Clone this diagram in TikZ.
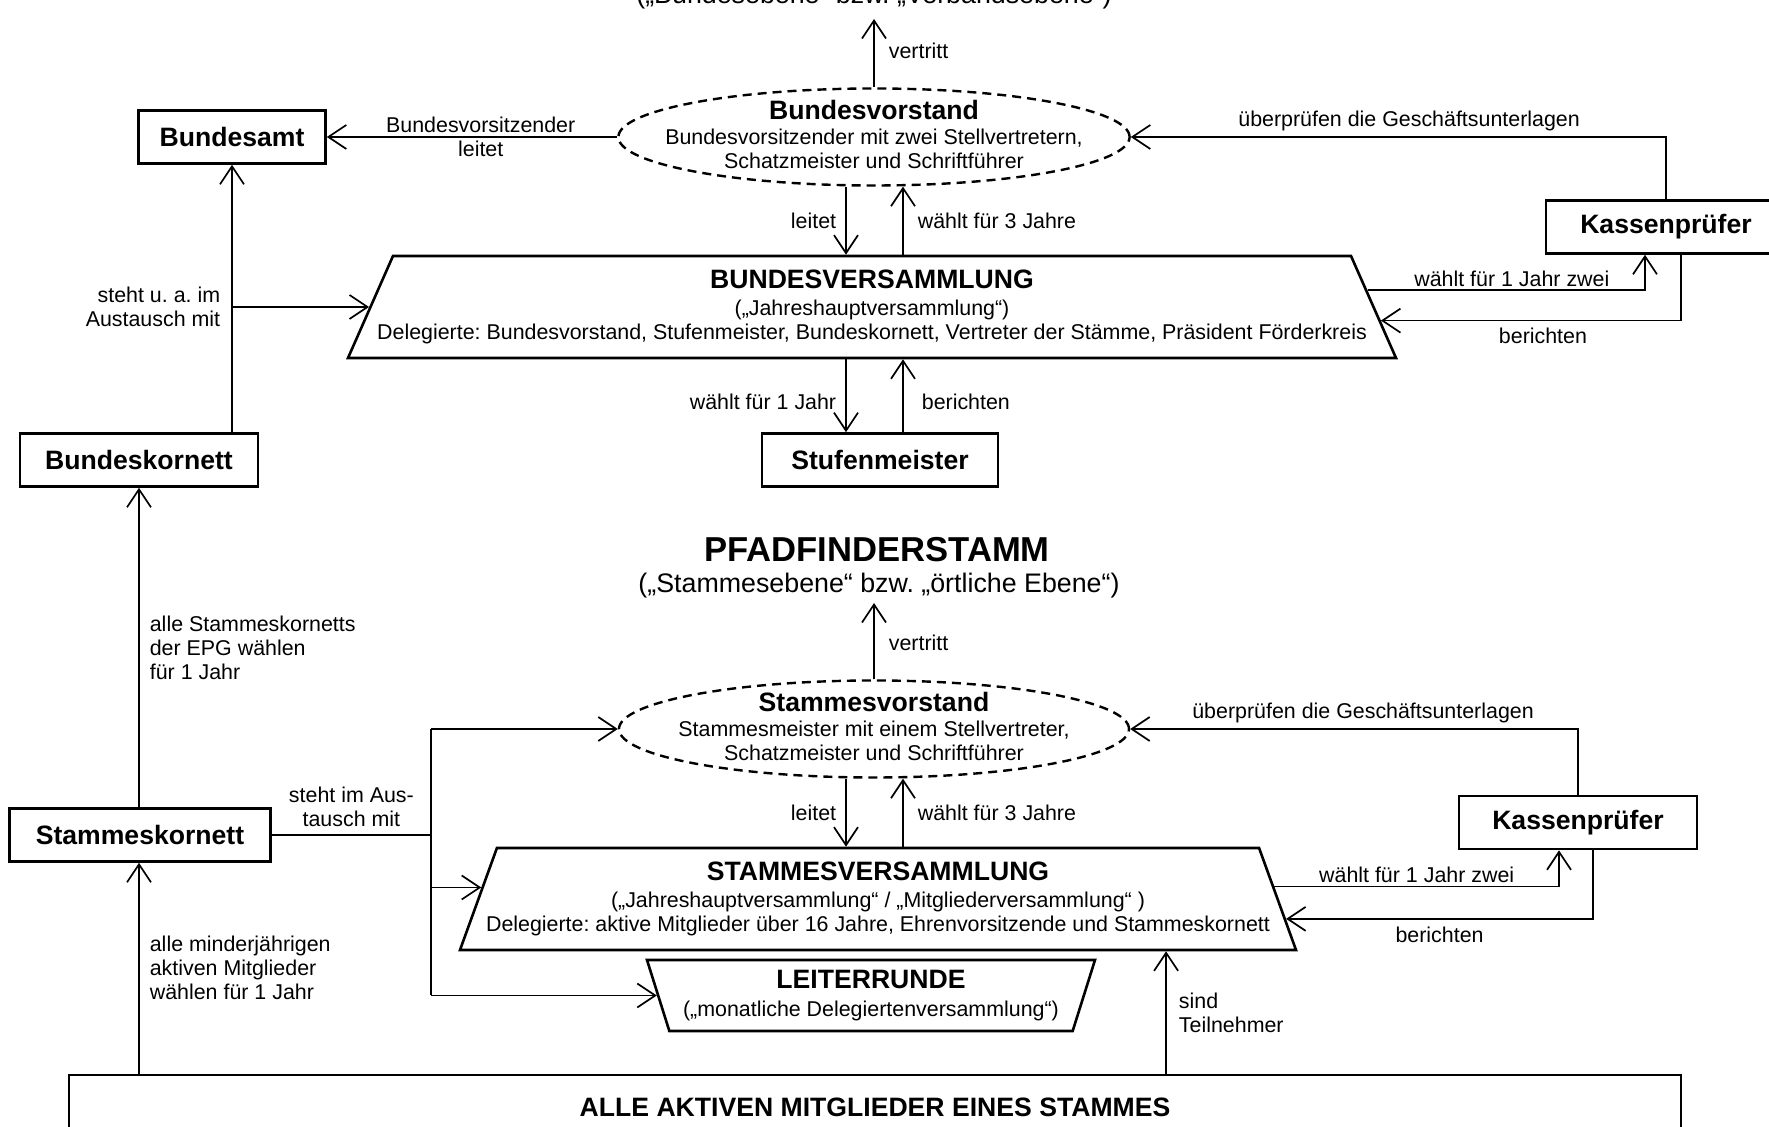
\documentclass[tikz,border=0pt]{standalone}
\usepackage{fontspec}
\setmainfont{Liberation Sans}
\usetikzlibrary{arrows.meta,shapes.geometric,calc}
\newcommand{\boldhead}[1]{{\fontsize{13.3}{14}\selectfont\bfseries #1}}
\frenchspacing

\begin{document}
\begin{tikzpicture}[x=0.5pt,y=-0.5pt,
    font=\fontsize{10.7}{12}\selectfont,
    >={Straight Barb[length=9pt,width=12pt]},
    box/.style={draw,line width=1.3pt,minimum height=26.5pt,font=\fontsize{13.3}{14}\selectfont\bfseries},
    vorstand/.style={ellipse,draw,line width=1.2pt,dash pattern=on 4.5pt off 3pt,minimum width=255pt,minimum height=48.5pt,inner xsep=-14pt,inner ysep=-3pt,align=center},
    versammlung/.style={trapezium,draw,line width=1.3pt,trapezium stretches body,align=center},
    conn/.style={->,line width=0.85pt},
    lbl/.style={inner sep=0pt}]
    \useasboundingbox (0,0) rectangle (1769,1127);

    % Bundesebene
    \node[anchor=base,font=\fontsize{13.4}{15}\selectfont] (bundsub) at (874,4) {(„Bundesebene“ bzw. „Verbandsebene“)};
    \coordinate (bundtip) at (874,19);
    \node[vorstand] (bvorst) at (874,137) {\boldhead{Bundesvorstand}\\[0.5pt] Bundesvorsitzender mit zwei Stellvertretern,\\ Schatzmeister und Schriftführer\rule[-2.8pt]{0pt}{0pt}};
    \node[box,minimum width=93.5pt] (bamt) at (232,137) {Bundesamt};
    \node[box,minimum width=120pt] (ksp1) at (1666,227) {Kassenprüfer};
    \node[versammlung,trapezium angle=66.2,minimum width=524pt,minimum height=51pt,inner xsep=-17pt,inner ysep=7pt] (bvers) at (872,307) {\boldhead{BUNDESVERSAMMLUNG}\\[1.5pt] („Jahreshauptversammlung“)\\ Delegierte: Bundesvorstand, Stufenmeister, Bundeskornett, Vertreter der Stämme, Präsident Förderkreis};
    \node[box,minimum width=118pt] (stufm) at (880,460) {Stufenmeister};
    \node[box,minimum width=119pt] (bkorn) at (139,460) {Bundeskornett};

    \draw[conn] (bvorst.north) -- (bundtip) node[lbl,pos=0.54,right=7pt]{vertritt};
    \draw[conn] (bvorst.west) -- (bamt.east) node[lbl,pos=0.47,align=center]{Bundesvorsitzender\\leitet};
    \draw[conn] (ksp1.north) |- (bvorst.east) node[lbl,pos=0.74,above=2.5pt]{überprüfen die Geschäftsunterlagen};
    \draw[conn] ($(bvers.top right corner)!0.34!(bvers.bottom right corner)$) -| ([xshift=-10.5pt]ksp1.south) node[lbl,pos=0.26,above=1.5pt]{wählt für 1 Jahr zwei};
    \draw[conn] ([xshift=7.5pt]ksp1.south) |- ($(bvers.top right corner)!0.63!(bvers.bottom right corner)$) node[lbl,pos=0.73,below=3.5pt]{berichten};
    \draw[conn] ([xshift=-14pt]bvorst.south) -- ([xshift=-14pt]bvorst.south |- bvers.north) node[lbl,midway,left=4.5pt]{leitet};
    \draw[conn] ([xshift=14.5pt]bvorst.south |- bvers.north) -- ([xshift=14.5pt]bvorst.south) node[lbl,midway,right=7pt]{wählt für 3 Jahre};
    \draw[conn] ([xshift=-14pt]bvorst.south |- bvers.south) -- ([xshift=-14pt]bvorst.south |- stufm.north) node[lbl,pos=0.59,left=4.5pt]{wählt für 1 Jahr};
    \draw[conn] ([xshift=14.5pt]bvorst.south |- stufm.north) -- ([xshift=14.5pt]bvorst.south |- bvers.south) node[lbl,pos=0.41,right=9pt]{berichten};
    \draw[conn] (bamt.south |- bkorn.north) -- (bamt.south);
    \draw[conn] (bamt.south |- bvers.west) node[lbl,left=5.5pt,align=right]{steht u. a. im\\Austausch mit} -- (bvers.west);
    \draw[conn] (bkorn.south |- 0,808) -- (bkorn.south) node[lbl,midway,right=5pt,align=left]{alle Stammeskornetts\\der EPG wählen\\für 1 Jahr};

    % Stammesebene
    \node[anchor=base,font=\fontsize{17.3}{19}\selectfont\bfseries] (stammtitle) at (877,562) {PFADFINDERSTAMM};
    \node[anchor=base,font=\fontsize{13.4}{15}\selectfont] (stammsub) at (879,593) {(„Stammesebene“ bzw. „örtliche Ebene“)};
    \coordinate (stammtip) at (874,603);
    \node[vorstand] (svorst) at (874,729) {\boldhead{Stammesvorstand}\\[0.5pt] Stammesmeister mit einem Stellvertreter,\\ Schatzmeister und Schriftführer\rule[-2.8pt]{0pt}{0pt}};
    \node[box,minimum width=119pt] (ksp2) at (1578,822.5) {Kassenprüfer};
    \node[versammlung,trapezium angle=70.1,minimum width=418pt,minimum height=51pt,inner xsep=-8pt,inner ysep=7pt] (svers) at (878,899) {\boldhead{STAMMESVERSAMMLUNG}\\[1.5pt] („Jahreshauptversammlung“ / „Mitgliederversammlung“ )\\ Delegierte: aktive Mitglieder über 16 Jahre, Ehrenvorsitzende und Stammeskornett};
    \node[versammlung,trapezium angle=108,minimum width=224pt,minimum height=35.5pt,inner ysep=4.5pt] (leit) at (871,995.5) {\boldhead{LEITERRUNDE}\\[2pt] („monatliche Delegiertenversammlung“)};
    \node[box,minimum width=130.5pt] (skorn) at (140,835) {Stammeskornett};
    \node[box,minimum width=806pt,minimum height=32pt] (alle) at (875,1107) {ALLE AKTIVEN MITGLIEDER EINES STAMMES};
    \coordinate (bus) at (431,835);
    \coordinate (sversl) at ($(svers.top left corner)!0.39!(svers.bottom left corner)$);

    \draw[conn] (svorst.north) -- (stammtip) node[lbl,pos=0.48,right=7pt]{vertritt};
    \draw[conn] (ksp2.north) |- (svorst.east) node[lbl,pos=0.74,above=2.5pt]{überprüfen die Geschäftsunterlagen};
    \draw[conn] ([xshift=-14pt]svorst.south) -- ([xshift=-14pt]svorst.south |- svers.north) node[lbl,midway,left=4.5pt]{leitet};
    \draw[conn] ([xshift=14.5pt]svorst.south |- svers.north) -- ([xshift=14.5pt]svorst.south) node[lbl,midway,right=7pt]{wählt für 3 Jahre};
    \draw[conn] ($(svers.top right corner)!0.38!(svers.bottom right corner)$) -| ([xshift=-9.5pt]ksp2.south) node[lbl,pos=0.25,above=1.5pt]{wählt für 1 Jahr zwei};
    \draw[conn] ([xshift=7.5pt]ksp2.south) |- ($(svers.top right corner)!0.69!(svers.bottom right corner)$) node[lbl,pos=0.75,below=3.5pt]{berichten};
    \draw[line width=0.85pt] (skorn.east) -- (bus) node[lbl,midway,above=3.5pt,align=center]{steht im Aus-\\tausch mit};
    \draw[line width=0.85pt] (bus |- svorst.west) -- (bus |- leit.west);
    \draw[conn] (bus |- svorst.west) -- (svorst.west);
    \draw[conn] (bus |- sversl) -- (sversl);
    \draw[conn] (bus |- leit.west) -- (leit.west);
    \draw[conn] (bkorn.south |- alle.north) -- (bkorn.south |- skorn.south) node[lbl,midway,right=5pt,align=left]{alle minderjährigen\\aktiven Mitglieder\\wählen für 1 Jahr};
    \draw[conn] ([xshift=144pt]svers.south |- alle.north) -- ([xshift=144pt]svers.south) node[lbl,midway,right=6pt,align=left]{sind\\Teilnehmer};
\end{tikzpicture}
\end{document}
